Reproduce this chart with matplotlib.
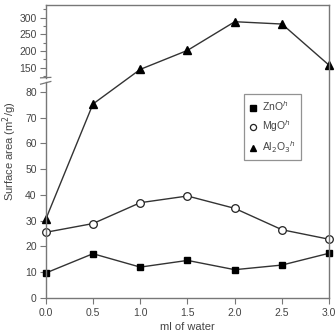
import numpy as np
import matplotlib
matplotlib.use("Agg")
import matplotlib.pyplot as plt
import matplotlib.transforms as mtransforms

plt.rcParams['font.family'] = ['Liberation Sans', 'DejaVu Sans']

water = [0.0, 0.5, 1.0, 1.5, 2.0, 2.5, 3.0]
zno = [9.7, 17.2, 12.0, 14.6, 11.0, 12.8, 17.4]
mgo = [25.5, 28.9, 37.0, 39.6, 34.8, 26.5, 22.8]
al2o3 = [30.5, 75.3, 145, 202, 288, 281, 157]

yticks_low = [0, 10, 20, 30, 40, 50, 60, 70, 80]
yticks_high = [150, 200, 250, 300]
xticks = [0.0, 0.5, 1.0, 1.5, 2.0, 2.5, 3.0]

# broken y axis: linear up to A, squeezed gap, compressed above B
A, B, G, R = 84.0, 120.0, 1.5, 0.1294


def fwd(y):
    y = np.asarray(y, dtype=float)
    return np.where(y <= A, y,
                    np.where(y < B, A + (y - A) * G / (B - A),
                             A + G + (y - B) * R))


def inv(s):
    s = np.asarray(s, dtype=float)
    return np.where(s <= A, s,
                    np.where(s < A + G, A + (s - A) * (B - A) / G,
                             B + (s - A - G) / R))


txt = '#444444'
spc = '#777777'
lc = '#333333'

fig = plt.figure(figsize=(3.36, 3.36), dpi=100)
ax = fig.add_axes([0.136, 0.113, 0.844, 0.872])
ax.set_yscale('function', functions=(fwd, inv))

ax.plot(water, zno, '-s', color=lc, lw=1.0, ms=5, mfc='black', mec='black', label='ZnO$^h$', clip_on=False)
ax.plot(water, mgo, '-o', color=lc, lw=1.0, ms=5.5, mfc='white', mec='#222222', mew=0.9, label='MgO$^h$', clip_on=False)
ax.plot(water, al2o3, '-^', color=lc, lw=1.0, ms=6, mfc='black', mec='black', label='Al$_2$O$_3$$^h$', clip_on=False)

ax.set_xlim(0, 3.0)
ax.set_ylim(0, 338)
ax.set_xticks(xticks)
ax.set_xticklabels(['%.1f' % x for x in xticks])
ax.set_yticks(yticks_low + yticks_high)
ax.set_yticks([125, 175, 225, 275, 325], minor=True)

for s in ax.spines.values():
    s.set_color(spc)
    s.set_linewidth(1.0)
ax.spines['left'].set_visible(False)

ax.tick_params(axis='both', colors=spc, labelcolor=txt, labelsize=7.5, length=4, width=0.8, direction='out')
ax.tick_params(axis='y', which='minor', colors=spc, length=2.5, width=0.8)
ax.tick_params(axis='y', pad=2.5)
ax.tick_params(axis='x', pad=3)

# left spine drawn in two pieces with break marks
tr = mtransforms.blended_transform_factory(ax.transAxes, ax.transData)
ax.plot([0, 0], [0, A], transform=tr, color=spc, lw=1.0, clip_on=False)
ax.plot([0, 0], [B, 338], transform=tr, color=spc, lw=1.0, clip_on=False)
for yb in [A, B]:
    ax.plot([-0.018, 0.018], [yb - 1.0, yb + 1.0], transform=tr, color=spc, lw=0.9, clip_on=False)

ax.set_xlabel('ml of water', color=txt, fontsize=8, labelpad=3)
ax.set_ylabel('Surface area (m$^2$/g)', color=txt, fontsize=8, labelpad=0.5)

leg = ax.legend(loc='upper left', bbox_to_anchor=(0.70, 0.695), fontsize=7.5,
                frameon=True, fancybox=False, handlelength=0.6, handletextpad=0.6,
                borderpad=0.5, labelspacing=0.5, borderaxespad=0, markerscale=0.8)
for h in leg.get_lines():
    h.set_linestyle('none')
leg.get_frame().set_edgecolor(spc)
leg.get_frame().set_linewidth(0.9)
for t in leg.get_texts():
    t.set_color(txt)

fig.savefig('out.png', dpi=100)
